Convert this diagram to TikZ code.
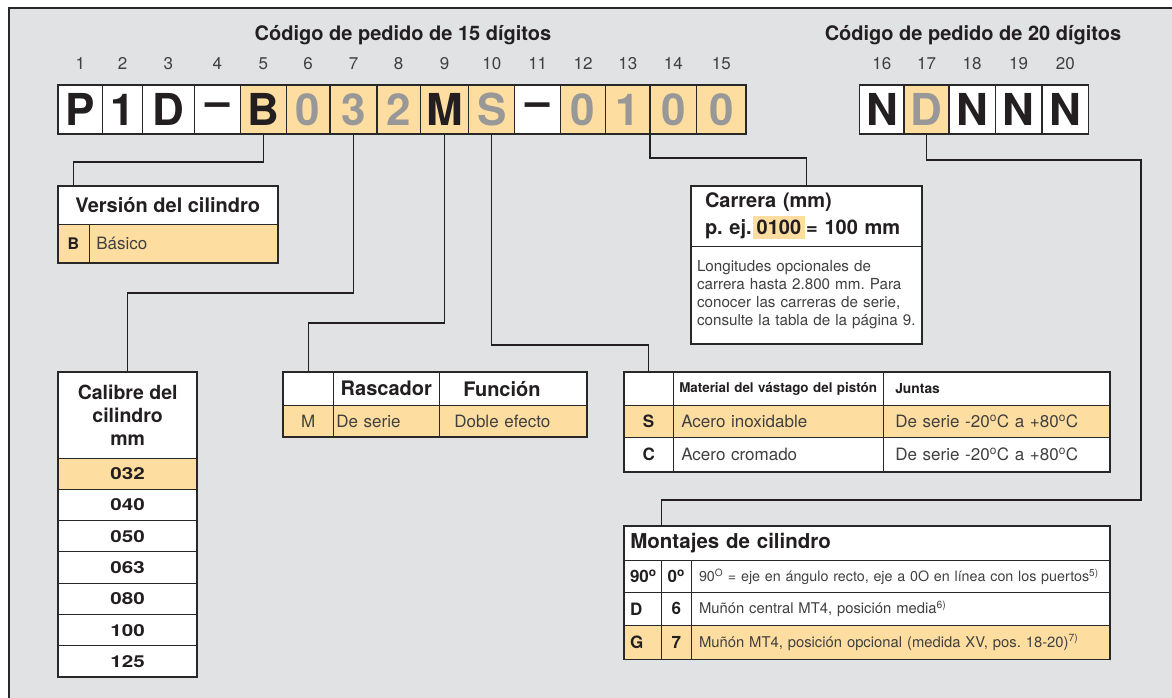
\documentclass[tikz,border=0pt]{standalone}
\usepackage{fontspec}
\setmainfont{TeX Gyre Heros}
\newfontfamily\widefont[FakeStretch=1.25]{TeX Gyre Heros}
\usetikzlibrary{positioning}

\definecolor{panel}{RGB}{225,226,228}
\definecolor{peach}{RGB}{254,222,160}
\definecolor{ink}{RGB}{35,31,32}
\definecolor{txt}{RGB}{64,64,64}
\definecolor{dim}{RGB}{152,152,152}
\definecolor{rule}{RGB}{40,40,40}
\newcommand{\fsz}[2]{\fontsize{#1}{#2}\selectfont}
\setlength{\fboxsep}{4pt}
\frenchspacing

\tikzset{
  digw/.style={draw=rule, line width=1.3pt, fill=white, minimum height=49, inner sep=0pt,
    outer sep=0pt, font=\fsz{44}{44}\bfseries, text=ink},
  digo/.style={digw, fill=peach},
  digg/.style={digw, fill=peach, text=dim},
  num/.style={font=\fsz{17}{17}, text=txt, inner sep=0pt},
  ttl/.style={font=\fsz{20}{20}\bfseries, text=ink, anchor=base},
  tab/.style={draw=rule, line width=0.9pt, fill=white, anchor=north west, inner sep=0pt,
    outer sep=0pt, font=\fsz{17}{17}, text=txt},
  tabo/.style={tab, fill=peach},
  head/.style={font=\fsz{20}{20}\bfseries, text=ink},
  key/.style={font=\fsz{17}{17}\bfseries, text=ink},
  lft/.style 2 args={align=left, inner xsep=#1, text width=#2},
  boxline/.style={draw=rule, line width=1.8pt},
  link/.style={draw=ink, line width=1.3pt}
}

\begin{document}
\begin{tikzpicture}[x=1pt, y=-1pt]
  \path[use as bounding box, fill=white] (0,0) rectangle (1172,697);
  \fill[panel] (9,8) rectangle (1180,705);
  \draw[rule, line width=1.3pt] (9,705) |- (1180,8);

  % order code
  \node[ttl] (t15) at (403,40) {Código de pedido de 15 dígitos};
  \node[ttl] (t20) at (973,40) {Código de pedido de 20 dígitos};
  \foreach \n/\a/\b/\t/\s in {1/58/102.6/P/digw, 2/102.6/142.5/1/digw, 3/142.5/194.4/D/digw,
      4/194.4/240.3/–/digw, 5/240.3/286.3/B/digo, 6/286.3/330/0/digg, 7/330/377/3/digg,
      8/377/420.2/2/digg, 9/420.2/468.8/M/digo, 10/468.8/514.7/S/digg, 11/514.7/560.7/–/digw,
      12/560.7/605.5/0/digg, 13/605.5/650/1/digg, 14/650/696.7/0/digg, 15/696.7/746/0/digg,
      16/859.8/904/N/digw, 17/904/949/D/digg, 18/949/995.3/N/digw, 19/995.3/1042/N/digw,
      20/1042/1088.7/N/digw}
    \node[\s, minimum width={\b-\a}] (c\n) at ({(\a+\b)/2},109.5) {\t};
  \foreach \n in {1,...,20}
    \node[num, above=15pt of c\n] (n\n) {\n};

  % version
  \node[tab, head, minimum width=220, minimum height=38.3] (vh) at (57.7,186) {Versión del cilindro};
  \node[tabo, key, font=\fsz{16}{16}\bfseries, minimum width=31.6, minimum height=39] (vB) at (vh.south west) {B};
  \node[tabo, minimum height=39, lft={7pt}{174.4pt}] (vtxt) at (vB.north east) {Básico};
  \draw[boxline] (vh.north west) rectangle (vtxt.south east);

  % stroke
  \node[tab, minimum width=231.3, minimum height=60.3, lft={14pt}{203.3pt},
    font=\fsz{20}{27}\bfseries, text=ink] (carh) at (691,185.7)
    {Carrera (mm)\\p.\ ej.\hspace{1pt}\colorbox{peach}{0100}\hspace{1pt}= 100 mm};
  \node[tab, minimum width=231.3, minimum height=98, lft={6pt}{219.3pt}, font=\fsz{15.2}{18}] (carb)
    at (carh.south west) {\mbox{Longitudes opcionales de}\\\mbox{carrera hasta 2.800 mm. Para}\\\mbox{conocer las carreras de serie,}\\\mbox{consulte la tabla de la página 9.}};
  \draw[boxline] (carh.north west) rectangle (carb.south east);

  % bore
  \node[tab, head, font=\fsz{19.5}{23}\bfseries, align=center, minimum width=138.7, minimum height=86.3]
    (cal) at (58.3,371.7) {Calibre del\\cilindro\\mm};
  \foreach \v/\f [count=\k from 0] in {032/peach,040/white,050/white,063/white,080/white,100/white,125/white}
    \node[tab, fill=\f, minimum width=138.7, minimum height=31.3, font=\widefont\fsz{16.5}{16.5}\bfseries,
      text=ink] (cal\v) at (58.3,{458+31.3*\k}) {\v};
  \draw[boxline] (cal.north west) rectangle (cal125.south east);

  % wiper
  \node[tab, minimum width=50, minimum height=34] (rh1) at (283.3,371.7) {};
  \node[tab, head, minimum width=106, minimum height=34] (rh2) at (rh1.north east) {Rascador};
  \node[tab, head, minimum height=34, lft={24pt}{100pt}] (rh3) at (rh2.north east) {Función};
  \node[tabo, minimum width=50, minimum height=31.6] (rM) at (rh1.south west) {M};
  \node[tabo, minimum height=31.6, lft={3pt}{100pt}] (rDs) at (rM.north east) {De serie};
  \node[tabo, minimum height=31.6, lft={15pt}{118pt}] (rDe) at (rDs.north east) {Doble efecto};
  \draw[boxline] (rh1.north west) rectangle (rDe.south east);

  % rod and seals
  \node[tab, minimum width=49.3, minimum height=33.4] (mh1) at (624,372.3) {};
  \node[tab, minimum height=33.4, lft={6pt}{198pt}, font=\fsz{13.4}{16}\bfseries, text=ink] (mh2)
    at (mh1.north east) {Material del vástago del pistón};
  \node[tab, minimum height=33.4, lft={12pt}{202.7pt}, font=\fsz{13.8}{16}\bfseries, text=ink] (mh3)
    at (mh2.north east) {Juntas};
  \node[tabo, key, minimum width=49.3, minimum height=32] (mS) at (mh1.south west) {S};
  \node[tabo, minimum height=32, lft={8pt}{194pt}] (mSa) at (mS.north east) {Acero inoxidable};
  \node[tabo, minimum height=32, lft={12pt}{202.7pt}] (mSb) at (mSa.north east)
    {De serie -20\textsuperscript{o}C a +80\textsuperscript{o}C};
  \node[tab, key, minimum width=49.3, minimum height=34] (mC) at (mS.south west) {C};
  \node[tab, minimum height=34, lft={8pt}{194pt}] (mCa) at (mC.north east) {Acero cromado};
  \node[tab, minimum height=34, lft={12pt}{202.7pt}] (mCb) at (mCa.north east)
    {De serie -20\textsuperscript{o}C a +80\textsuperscript{o}C};
  \draw[boxline] (mh1.north west) rectangle (mCb.south east);

  % mountings
  \node[tab, head, font=\fsz{20.5}{20.5}\bfseries, minimum height=34.5, lft={6.35pt}{473.3pt}] (moh)
    at (624,526) {Montajes de cilindro};
  \node[tab, key, minimum height=32.2, lft={6pt}{25.7pt}] (mo90) at (moh.south west) {90\textsuperscript{o}};
  \node[tab, key, minimum width=29.3, minimum height=32.2] (mo0) at (mo90.north east) {0\textsuperscript{o}};
  \node[tab, minimum height=32.2, lft={8pt}{403pt}, font=\fsz{14.3}{16}] (mo0t) at (mo0.north east)
    {\mbox{90\textsuperscript{O} = eje en ángulo recto, eje a 0O en línea con los puertos\textsuperscript{5)}}};
  \node[tab, key, minimum height=32.3, lft={6pt}{25.7pt}] (moD) at (mo90.south west) {D};
  \node[tab, key, minimum width=29.3, minimum height=32.3] (mo6) at (moD.north east) {6};
  \node[tab, minimum height=32.3, lft={8pt}{403pt}, font=\fsz{14.8}{16}] (mo6t) at (mo6.north east)
    {\mbox{Muñón central MT4, posición media\textsuperscript{6)}}};
  \node[tabo, key, minimum height=34.5, lft={6pt}{25.7pt}] (moG) at (moD.south west) {G};
  \node[tabo, key, minimum width=29.3, minimum height=34.5] (mo7) at (moG.north east) {7};
  \node[tabo, minimum height=34.5, lft={8pt}{403pt}, font=\fsz{14.8}{16}] (mo7t) at (mo7.north east)
    {\mbox{Muñón MT4, posición opcional (medida XV, pos. 18-20)\textsuperscript{7)}}};
  \draw[boxline] (moh.north west) rectangle (mo7t.south east);

  % connectors
  \draw[link] (c5.south) -- ++(0,28) -| (vB |- vh.north);
  \draw[link] (c7.south) -- ++(0,159) -| (cal.north);
  \draw[link] (c9.south) -- ++(0,189) -| (rh1.north);
  \draw[link] (c10.south) -- ++(0,211) -| (mh1.north);
  \draw[link] (c13.south east) -- ++(0,24) -| (carh.north);
  \coordinate (turn) at (1141,500);
  \draw[link] (c17.south) -- ++(0,26) -| (turn) -| (mo90.east |- moh.north);
\end{tikzpicture}
\end{document}
